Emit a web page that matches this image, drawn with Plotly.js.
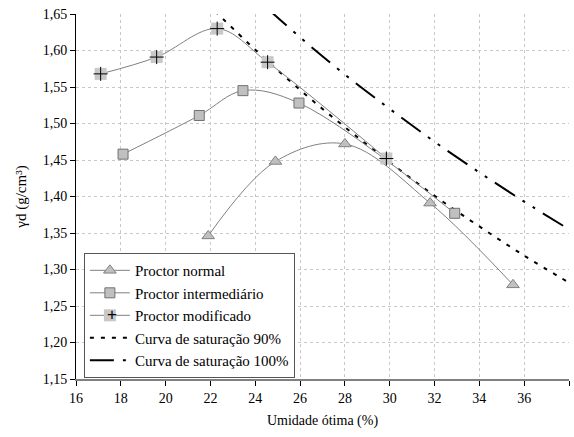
<!DOCTYPE html>
<html>
<head>
<meta charset="utf-8">
<script src="https://cdn.plot.ly/plotly-3.0.1.min.js"></script>
<style>html,body{margin:0;padding:0;background:#fff;}#chart{width:574px;height:437px;}</style>
</head>
<body>
<div id="chart"></div>
<script>
// Proctor normal
var normalX = [21.9, 24.9, 28.0, 31.8, 35.5];
var normalY = [1.346, 1.448, 1.472, 1.391, 1.279];
// Proctor intermediário
var interX = [18.1, 21.5, 23.45, 25.95, 32.9];
var interY = [1.458, 1.511, 1.545, 1.528, 1.377];
// Proctor modificado
var modX = [17.1, 19.6, 22.3, 24.55, 29.85];
var modY = [1.568, 1.591, 1.630, 1.584, 1.452];
// Curva de saturação 90%
var sat90X = [22.2, 24, 26, 28, 30, 32, 34, 36, 38];
var sat90Y = [1.654, 1.601, 1.546, 1.495, 1.447, 1.401, 1.359, 1.319, 1.282];
// Curva de saturação 100%
var sat100X = [24.6, 26, 28, 30, 32, 34, 36, 38];
var sat100Y = [1.656, 1.618, 1.567, 1.520, 1.475, 1.433, 1.393, 1.355];

var xTicks = [16, 18, 20, 22, 24, 26, 28, 30, 32, 34, 36, 38];
var yTicks = [1.15, 1.20, 1.25, 1.30, 1.35, 1.40, 1.45, 1.50, 1.55, 1.60, 1.65];

var names = ['Proctor normal', 'Proctor intermediário', 'Proctor modificado',
             'Curva de saturação 90%', 'Curva de saturação 100%'];

var traces = [
  {x: sat90X, y: sat90Y, name: names[3], mode: 'lines', legendrank: 4,
   line: {color: '#000', width: 2, dash: '4px,7px', shape: 'spline'}},
  {x: sat100X, y: sat100Y, name: names[4], mode: 'lines', legendrank: 5,
   line: {color: '#000', width: 2, dash: '24px,9px,3px,9px,3px,9px', shape: 'spline'}},
  {x: normalX, y: normalY, name: names[0], mode: 'lines+markers', legendrank: 1,
   line: {color: '#808080', width: 1, shape: 'spline', smoothing: 1},
   marker: {symbol: 'triangle-up', size: 11, color: '#c0c0c0', line: {color: '#808080', width: 1}}},
  {x: interX, y: interY, name: names[1], mode: 'lines+markers', legendrank: 2,
   line: {color: '#808080', width: 1, shape: 'spline', smoothing: 1},
   marker: {symbol: 'square', size: 10, color: '#c0c0c0', line: {color: '#707070', width: 1}}},
  {x: modX, y: modY, name: names[2], mode: 'lines+markers', legendrank: 3,
   line: {color: '#808080', width: 1, shape: 'spline', smoothing: 1},
   marker: {symbol: 'square', size: 12, color: '#c8c8c8', line: {width: 0}}},
  {x: modX, y: modY, name: names[2], mode: 'markers', showlegend: false, hoverinfo: 'skip',
   marker: {symbol: 'cross-thin', size: 10, color: '#000', line: {color: '#000', width: 1}}}
];

var fontFam = 'Liberation Serif';

var layout = {
  width: 574, height: 437,
  margin: {l: 76, r: 5, t: 14, b: 58},
  paper_bgcolor: '#fff', plot_bgcolor: '#fff',
  separators: ', ',
  font: {family: fontFam, size: 14, color: '#000'},
  showlegend: true,
  legend: {x: 0.016, y: 0.345, xanchor: 'left', yanchor: 'top',
           bgcolor: '#fff', bordercolor: '#555', borderwidth: 1,
           font: {family: fontFam, size: 15, color: '#000'},
           tracegroupgap: 0, itemwidth: 40},
  annotations: [{xref: 'paper', yref: 'paper', x: 0.073, y: 0.1767,
                 xanchor: 'center', yanchor: 'middle', showarrow: false,
                 text: '+', font: {family: 'Liberation Sans', size: 17, color: '#000'}}],
  xaxis: {range: [16, 38], tickvals: xTicks, ticktext: xTicks.map(String),
          showgrid: true, gridcolor: '#c8c8c8', griddash: '3px,3px', gridwidth: 1,
          showline: true, linecolor: '#808080', linewidth: 2,
          ticks: 'outside', ticklen: 5, tickcolor: '#000', tickwidth: 1,
          zeroline: false, tickfont: {family: fontFam, size: 14},
          title: {text: 'Umidade ótima (%)', font: {family: fontFam, size: 14}, standoff: 10}},
  yaxis: {range: [1.15, 1.65], tickvals: yTicks, tickformat: '.2f',
          showgrid: true, gridcolor: '#c8c8c8', griddash: '3px,3px', gridwidth: 1,
          showline: true, linecolor: '#000', linewidth: 1,
          ticks: 'outside', ticklen: 5, tickcolor: '#000', tickwidth: 1,
          zeroline: false, tickfont: {family: fontFam, size: 14},
          title: {text: 'γd (g/cm³)', font: {family: fontFam, size: 15}, standoff: 12}}
};

Plotly.newPlot('chart', traces, layout, {displayModeBar: false, staticPlot: true});
</script>
</body>
</html>
